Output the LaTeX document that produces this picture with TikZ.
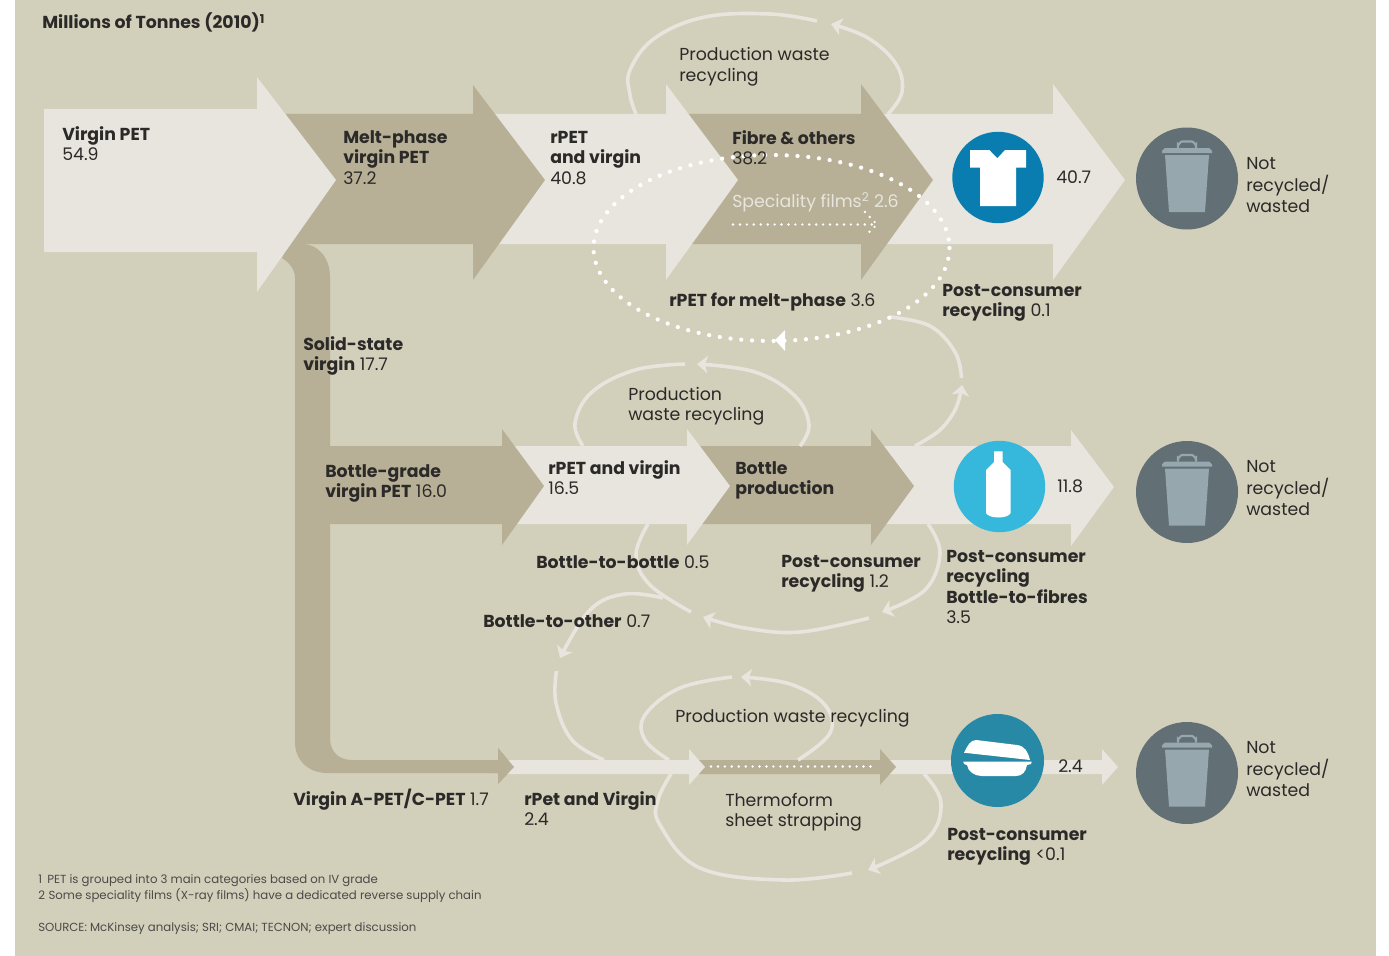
\documentclass[tikz,border=0pt]{standalone}
\usepackage{fontspec}
\setmainfont{Poppins}
\usetikzlibrary{arrows.meta}
\definecolor{bgc}{HTML}{D2D0BA}
\definecolor{lite}{HTML}{E7E5DD}
\definecolor{tan}{HTML}{B8B096}
\definecolor{ink}{HTML}{2B2A29}
\definecolor{shirtc}{HTML}{0A7DB0}
\definecolor{bottlec}{HTML}{36B8DC}
\definecolor{shellc}{HTML}{2889A6}
\definecolor{binc}{HTML}{626F74}
\definecolor{binl}{HTML}{96A7AD}
\newcommand{\ml}[1]{\begin{tabular}[t]{@{}l@{}}#1\end{tabular}}
\newcommand{\bb}[1]{\textbf{#1}}
\tikzset{
  lab/.style={inner sep=0pt,anchor=base west,text=ink,font=\fontsize{13}{15.4}\selectfont},
  foot/.style={inner sep=0pt,anchor=base west,text=ink!85,font=\fontsize{8.8}{11}\selectfont},
  lite arrow/.style={fill=lite,draw=none},
  tan arrow/.style={fill=tan,draw=none},
  loopline/.style={draw=lite,line width=2.7pt,fill=none},
  looptip/.style={loopline,-{Stealth[length=8pt,width=13pt,inset=2pt]}},
  wdots/.style={draw=white,line width=3.2pt,line cap=round,dash pattern=on 0pt off 8.1pt},
  sdots/.style={draw=white,line width=2pt,line cap=round,dash pattern=on 0pt off 5.2pt},
  bincirc/.style={fill=binc,draw=none},
  binpart/.style={fill=binl,draw=none},
  icon/.style={fill=white,draw=none},
  bin/.pic={
    \fill[binpart] (-22,-23.5) -- (22,-23.5) -- (18,33.5) -- (-18,33.5) -- cycle;
    \fill[binpart] (-25,-25.5) -- (25,-25.5) -- (25,-28) to[out=-90,in=0] (22,-30.5) -- (-22,-30.5) to[out=180,in=-90] (-25,-28) -- cycle;
    \draw[binl,line width=1.6pt] (-9,-30.5) -- (-9,-34) to[out=-90,in=180] (-5,-37) -- (5,-37) to[out=0,in=-90] (9,-34) -- (9,-30.5);
  }
}
\begin{document}
\begin{tikzpicture}[x=.75pt,y=-.75pt]
\useasboundingbox (0,0) rectangle (1389,956);
\fill[white] (0,0) rectangle (1389,956);
\fill[bgc] (15,0) rectangle (1376,956);

% ---- row 1 arrows, right to left
\fill[lite arrow] (880,114) -- (1053,114) -- (1053,84) -- (1125,180) -- (1053,280) -- (1053,244) -- (880,244) -- cycle;
\fill[tan arrow] (680,114) -- (861,114) -- (861,84) -- (933,180) -- (861,280) -- (861,244) -- (680,244) -- cycle;
\fill[lite arrow] (490,114) -- (666,114) -- (666,84) -- (738,180) -- (666,280) -- (666,244) -- (490,244) -- cycle;
% tan stem running down from the melt-phase arrow
\fill[tan arrow] (282,258) .. controls (290,263) and (295,270) .. (295,278) -- (295,742) .. controls (295,760) and (308,773) .. (327,773)
  -- (498,773) -- (498,784) -- (514,767) -- (498,748) -- (498,760) -- (352,760) .. controls (339,760) and (330,752) .. (330,738)
  -- (330,277) .. controls (330,258) and (318,244) .. (303,244) -- (295,230) -- cycle;
\fill[tan arrow] (270,114) -- (473,114) -- (473,85) -- (545,180) -- (473,280) -- (473,244) -- (270,244) -- cycle;
\fill[lite arrow] (44,109) -- (257,109) -- (257,77) -- (336,180) -- (257,292) -- (257,252) -- (44,252) -- cycle;

% ---- row 2 arrows
\fill[lite arrow] (880,446) -- (1071,446) -- (1071,430) -- (1114,487) -- (1071,546) -- (1071,524) -- (880,524) -- cycle;
\fill[tan arrow] (690,446) -- (871,446) -- (871,429) -- (914,486) -- (871,545) -- (871,524) -- (690,524) -- cycle;
\fill[lite arrow] (510,446) -- (687,446) -- (687,429) -- (730,486) -- (687,545) -- (687,524) -- (510,524) -- cycle;
\fill[tan arrow] (325,446) -- (502,446) -- (502,429) -- (544,486) -- (502,545) -- (502,524) -- (325,524) -- cycle;

% ---- row 3 arrows
\fill[lite arrow] (885,760) -- (1102,760) -- (1102,749) -- (1118,767) -- (1102,785) -- (1102,774) -- (885,774) -- cycle;
\fill[tan arrow] (695,760) -- (880,760) -- (880,749) -- (896,767) -- (880,785) -- (880,774) -- (695,774) -- cycle;
\fill[lite arrow] (505,760) -- (689,760) -- (689,749) -- (705,767) -- (689,785) -- (689,774) -- (505,774) -- cycle;
\fill[tan arrow] (490,760) -- (498,760) -- (498,748) -- (514,767) -- (498,784) -- (498,773) -- (490,773) -- cycle;
\draw[sdots] (711,766.5) -- (876,766.5);

% ---- recycling loops
\draw[looptip] plot[smooth,tension=.65] coordinates {(888,114) (902,92) (896,64) (868,38) (831,24)};
\draw[loopline] plot[smooth,tension=.65] coordinates {(817,21) (770,14) (705,17) (655,38) (630,70) (630,95) (636,114)};
\draw[looptip] plot[smooth,tension=.65] coordinates {(800,446) (809,425) (795,396) (755,372) (697,364)};
\draw[loopline] plot[smooth,tension=.65] coordinates {(685,364) (635,370) (592,392) (575,423) (583,446)};
\draw[looptip] plot[smooth,tension=.6] coordinates {(915,446) (940,430) (956,408) (962,385)};
\draw[loopline] plot[smooth,tension=.65] coordinates {(961.5,378) (955,352) (930,326) (890,317)};
\draw[looptip] plot[smooth,tension=.65] coordinates {(928,524) (940,553) (925,590) (882,612)};
\draw[looptip] plot[smooth,tension=.65] coordinates {(869,618) (800,632) (745,628) (703,617)};
\draw[loopline] plot[smooth,tension=.65] coordinates {(691,612) (650,585) (636,555) (648,524)};
\draw[looptip] plot[smooth,tension=.65] coordinates {(663,598) (625,594) (590,610) (560,658)};
\draw[loopline] plot[smooth,tension=.65] coordinates {(556.5,671) (556,703) (572,740) (604,760)};
\draw[looptip] plot[smooth,tension=.65] coordinates {(798,760) (830,733) (825,705) (790,684) (741,677)};
\draw[loopline] plot[smooth,tension=.65] coordinates {(732,677) (680,688) (645,715) (645,740) (669,760)};
\draw[looptip] plot[smooth,tension=.65] coordinates {(924,774) (941,803) (926,840) (868,870)};
\draw[loopline] plot[smooth,tension=.65] coordinates {(852,873) (783,880) (700,868) (660,825) (658,800) (671,774)};

% ---- dotted loops
\draw[wdots] (771.5,248) ellipse [x radius=178,y radius=93];
\path[fill=white] (775,340) -- (785,330) -- (785,351) -- cycle;
\draw[sdots] (733,224.5) -- (877,224.5);
\draw[sdots] (865,212) -- (877,224.5) -- (865,236);

% ---- product icons
\fill[shirtc] (998,177.5) circle [radius=45.7];
\fill[icon] (970,150) -- (989.3,150) -- (997.3,158.3) -- (1005,150) -- (1026,150) -- (1026,167.7) -- (1016,167.7) -- (1016,206) -- (980,206) -- (980,167.7) -- (970,167.7) -- cycle;
\fill[bottlec] (999.5,486.5) circle [radius=45.7];
\fill[icon] (994,451.3) -- (1002.7,451.3) -- (1002.7,462) -- (1010.7,470) -- (1010.7,513) .. controls (1008,519) and (989,519) .. (986,513) -- (986,470) -- (994,462) -- cycle;
\fill[shellc] (997.5,760.5) circle [radius=46.5];
\fill[icon] (964,752.7) .. controls (968,745) and (970,740.5) .. (976,740) -- (1017,745) .. controls (1025,746) and (1028,752) .. (1030,760) -- cycle;
\fill[icon] (963.3,761.5) -- (1031.7,761.5) -- (1031,764) -- (1027,765) .. controls (1026,772) and (1022,776) .. (1016,776) -- (982,776) .. controls (975,776) and (968,772) .. (967,765) -- (964,764) -- cycle;

\fill[bincirc] (1187,178.5) circle [radius=51];
\pic at (1187,178.5) {bin};
\fill[bincirc] (1187,492) circle [radius=51];
\pic at (1187,492) {bin};
\fill[bincirc] (1187,773) circle [radius=51];
\pic at (1187,773) {bin};

% ---- labels
\node[lab] (title) at (42,29) {\bb{Millions of Tonnes (2010)}\textsuperscript{\bb{1}}};
\node[lab] (virgin) at (62,140) {\ml{\bb{Virgin PET}\\54.9}};
\node[lab] (melt) at (343,143) {\ml{\bb{Melt-phase}\\\bb{virgin PET}\\37.2}};
\node[lab] (rpet) at (550,143) {\ml{\bb{rPET}\\\bb{and virgin}\\40.8}};
\node[lab] (fibre) at (732,144) {\ml{\bb{Fibre \& others}\\38.2}};
\node[lab,text=lite] (spec) at (732,207) {Speciality films\textsuperscript{2} 2.6};
\node[lab] (v407) at (1056,183) {40.7};
\node[lab] (not1) at (1246,169) {\ml{Not\\recycled/\\wasted}};
\node[lab] (pw1) at (679,61) {\ml{Production waste\\recycling}};
\node[lab] (melt2) at (669,306) {\bb{rPET for melt-phase} 3.6};
\node[lab] (pc1) at (942,296) {\ml{\bb{Post-consumer}\\\bb{recycling} 0.1}};
\node[lab] (solid) at (303,350) {\ml{\bb{Solid-state}\\\bb{virgin} 17.7}};
\node[lab] (pw2) at (628,400) {\ml{Production\\waste recycling}};
\node[lab] (bgrade) at (325,477) {\ml{\bb{Bottle-grade}\\\bb{virgin PET} 16.0}};
\node[lab] (rv2) at (548,474) {\ml{\bb{rPET and virgin}\\16.5}};
\node[lab] (bprod) at (735,474) {\ml{\bb{Bottle}\\\bb{production}}};
\node[lab] (v118) at (1057,492) {11.8};
\node[lab] (not2) at (1246,472) {\ml{Not\\recycled/\\wasted}};
\node[lab] (b2b) at (536,568) {\bb{Bottle-to-bottle} 0.5};
\node[lab] (pc2) at (781,567) {\ml{\bb{Post-consumer}\\\bb{recycling} 1.2}};
\node[lab] (pc3) at (946,562) {\ml{\bb{Post-consumer}\\\bb{recycling}\\\bb{Bottle-to-fibres}\\3.5}};
\node[lab] (b2o) at (483,627) {\bb{Bottle-to-other} 0.7};
\node[lab] (pw3) at (675,722) {Production waste recycling};
\node[lab] (v24) at (1058,772) {2.4};
\node[lab] (not3) at (1246,753) {\ml{Not\\recycled/\\wasted}};
\node[lab] (apet) at (293,805) {\bb{Virgin A-PET/C-PET} 1.7};
\node[lab] (rv3) at (524,805) {\ml{\bb{rPet and Virgin}\\2.4}};
\node[lab] (thermo) at (725,806) {\ml{Thermoform\\sheet strapping}};
\node[lab] (pc4) at (947,840) {\ml{\bb{Post-consumer}\\\bb{recycling} <0.1}};
\node[foot] (fn1) at (38,883) {1\hspace{.45em}PET is grouped into 3 main categories based on IV grade};
\node[foot] (fn2) at (38,899) {2\hspace{.3em}Some speciality films (X-ray films) have a dedicated reverse supply chain};
\node[foot] (src) at (38,931) {SOURCE: McKinsey analysis; SRI; CMAI; TECNON; expert discussion};
\end{tikzpicture}
\end{document}
